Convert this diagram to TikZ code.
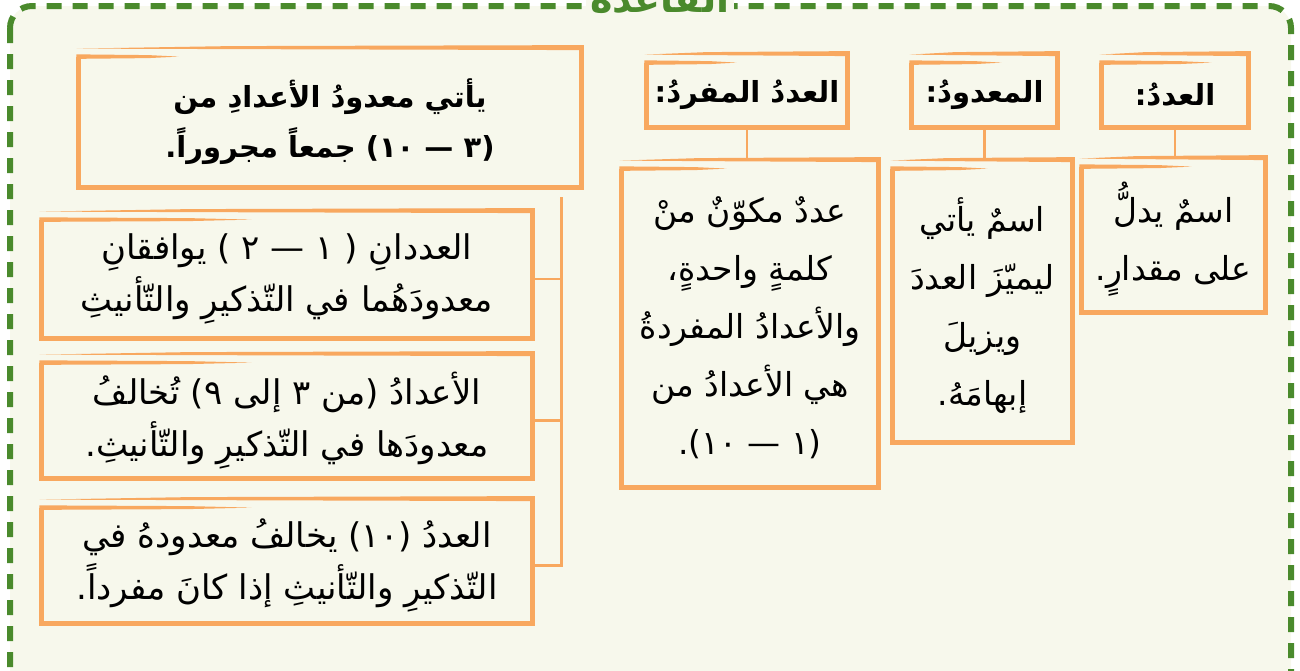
\documentclass[tikz,border=0pt]{standalone}
\usepackage{fontspec}
\usetikzlibrary{calc}
\TeXXeTstate=1
\newfontfamily\arabicfont[Script=Arabic]{DejaVu Sans}
\definecolor{cardorange}{HTML}{F8A85F}
\definecolor{pagecream}{HTML}{F7F8EC}
\definecolor{rulegreen}{HTML}{4A8A2C}
\newcommand{\ar}[1]{\beginR #1\endR}

\begin{document}
\begin{tikzpicture}[x=0.5pt,y=-0.5pt,
    card/.style 2 args={minimum width=#1,minimum height=#2,inner sep=0pt,align=center,
                        font=\arabicfont\fontsize{16.5}{29}\selectfont},
    head/.style={font=\arabicfont\bfseries\fontsize{14.5}{20}\selectfont},
    note/.style={font=\arabicfont\fontsize{17}{26}\selectfont},
    link/.style={cardorange,line width=1.2pt}
  ]
  \useasboundingbox (0,0) rectangle (1300,670);
  \draw[rulegreen,fill=pagecream,line width=3pt,dash pattern=on 7.5pt off 5.5pt,
        rounded corners=11pt] (10,6) rectangle (1291,700);
  \node[font=\arabicfont\bfseries\fontsize{19}{20}\selectfont,text=rulegreen,
        fill=pagecream,inner sep=2pt,anchor=base] (title) at (660,12) {\ar{القاعدة}};

  % right side: three definitions
  \node[card={73pt}{32pt},head] (hnum) at (1175,95) {\ar{العددُ:}};
  \node[card={72.5pt}{32pt},head] (hmadud) at (984.5,95) {\ar{المعدودُ:}};
  \node[card={100pt}{32pt},head] (hmufrad) at (747,95) {\ar{العددُ المفردُ:}};
  \node[card={91.5pt}{72.5pt}] (bnum) at (1173.5,239.5)
    {\ar{اسمٌ يدلُّ}\\\ar{على مقدارٍ.}};
  \node[card={89.5pt}{136.5pt}] (bmadud) at (982.5,305.5)
    {\ar{اسمٌ يأتي}\\\ar{ليميّزَ العددَ}\\\ar{ويزيلَ}\\\ar{إبهامَهُ.}};
  \node[card={128pt}{159pt}] (bmufrad) at (750,328)
    {\ar{عددٌ مكوّنٌ منْ}\\\ar{كلمةٍ واحدةٍ،}\\\ar{والأعدادُ المفردةُ}\\\ar{هي الأعدادُ من}\\\ar{(١ — ١٠).}};

  % left side: the rule and its three cases
  \node[card={251pt}{65pt},font=\arabicfont\bfseries\fontsize{14.5}{25}\selectfont] (rule) at (330,122)
    {\ar{يأتي معدودُ الأعدادِ من}\\\ar{(٣ — ١٠) جمعاً مجروراً.}};
  \node[card={245pt}{59pt},note] (ra) at (287,279)
    {\ar{العددانِ ( ١ — ٢ ) يوافقانِ}\\\ar{معدودَهُما في التّذكيرِ والتّأنيثِ}};
  \node[card={245pt}{57.5pt},note] (rb) at (287,420.5)
    {\ar{الأعدادُ (من ٣ إلى ٩) تُخالفُ}\\\ar{معدودَها في التّذكيرِ والتّأنيثِ.}};
  \node[card={245pt}{57.5pt},note] (rc) at (287,565.5)
    {\ar{العددُ (١٠) يخالفُ معدودهُ في}\\\ar{التّذكيرِ والتّأنيثِ إذا كانَ مفرداً.}};

  % hand drawn frames
  \foreach \nm/\len in {hnum/110,hmadud/90,hmufrad/90,bnum/110,bmadud/95,bmufrad/105,
                        rule/100,ra/210,rb/210,rc/210}{
    \fill[cardorange] ($(\nm.north west)+(-2,-8)$) -- ($(\nm.north west)!0.3!(\nm.north east)+(0,-10.5)$)
      -- ($(\nm.north east)+(2.25,-11.5)$) -- ($(\nm.north east)+(2.25,-6.5)$)
      -- ($(\nm.north west)!0.3!(\nm.north east)+(0,-7.5)$) -- cycle;
    \draw[cardorange,line width=2.25pt] ($(\nm.north east)+(0,-11.5)$) -- (\nm.south east)
      -- (\nm.south west) -- (\nm.north west);
    \fill[cardorange] ($(\nm.north west)+(-2.25,-2.25)$) -- ($(\nm.north west)+(0.7*\len,-1.5)$)
      -- ($(\nm.north west)+(\len,0)$) -- ($(\nm.north west)+(0.7*\len,1.5)$)
      -- ($(\nm.north west)+(-2.25,2.25)$) -- cycle;
  }

  \draw[link] (hnum.south) -- ($(hnum.south |- bnum.north)+(0,-9)$);
  \draw[link] (hmadud.south) -- ($(hmadud.south |- bmadud.north)+(0,-9)$);
  \draw[link] (hmufrad.south) -- ($(hmufrad.south |- bmufrad.north)+(0,-9)$);

  \coordinate (spine) at ($(rule.south east)+(-20,10)$);
  \draw[link] (spine) |- (rc.east);
  \draw[link] (ra.east) -- (ra.east -| spine);
  \draw[link] (rb.east) -- (rb.east -| spine);
\end{tikzpicture}
\end{document}
